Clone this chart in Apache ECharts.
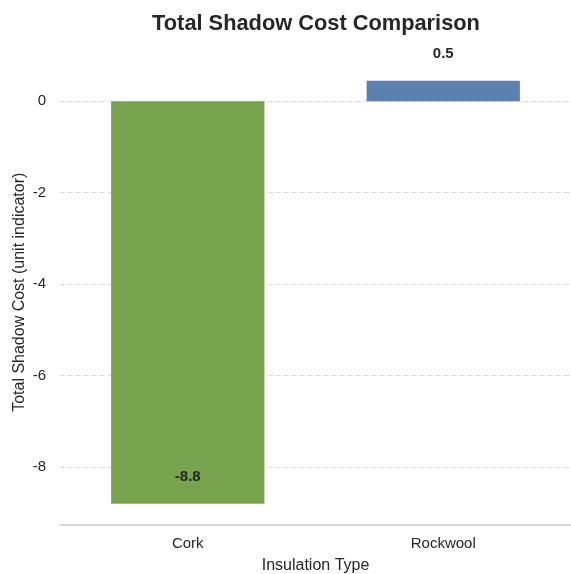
<!DOCTYPE html>
<html>
<head>
<meta charset="utf-8">
<script src="https://cdn.jsdelivr.net/npm/echarts@6/dist/echarts.min.js"></script>
<style>
  html, body { margin: 0; padding: 0; background: #fff; }
  #chart { width: 571px; height: 574px; }
</style>
</head>
<body>
<div id="chart"></div>
<script>
// Insulation materials and their total shadow cost
const categories = ['Cork', 'Rockwool'];
const shadowCost = [-8.8, 0.45];
const barColors = ['#78a44f', '#5b81b1'];
const valueLabels = ['-8.8', '0.5'];

const FONT = '"Liberation Sans", Arial, sans-serif';
const TEXT = '#262626';

const chart = echarts.init(document.getElementById('chart'), null, { renderer: 'canvas' });

const data = shadowCost.map((v, i) => ({
  value: v,
  itemStyle: { color: barColors[i] },
  label: {
    show: true,
    position: v >= 0 ? 'top' : 'insideBottom',
    distance: 19,
    formatter: valueLabels[i],
    fontFamily: FONT,
    fontSize: 15,
    fontWeight: 'bold',
    color: TEXT
  }
}));

chart.setOption({
  backgroundColor: '#ffffff',
  animation: false,
  title: {
    text: 'Total Shadow Cost Comparison',
    left: 311,
    textAlign: 'center',
    top: 8,
    textStyle: { fontFamily: FONT, fontSize: 21.8, fontWeight: 'bold', color: TEXT }
  },
  grid: { left: 60, right: 0, top: 59.5, bottom: 49, outerBoundsMode: 'none' },
  xAxis: {
    type: 'category',
    data: categories,
    name: 'Insulation Type',
    nameLocation: 'middle',
    nameGap: 33,
    nameMoveOverlap: false,
    nameTextStyle: { fontFamily: FONT, fontSize: 16, color: TEXT },
    axisLine: { onZero: false, lineStyle: { color: '#cccccc', width: 1.5 } },
    axisTick: { show: false },
    axisLabel: { fontFamily: FONT, fontSize: 15, color: TEXT, margin: 11 }
  },
  yAxis: {
    type: 'value',
    min: -9.2625,
    max: 0.9125,
    splitNumber: 5,
    name: 'Total Shadow Cost (unit indicator)',
    nameLocation: 'middle',
    nameGap: 32,
    nameMoveOverlap: false,
    nameTextStyle: { fontFamily: FONT, fontSize: 16, color: TEXT },
    axisLine: { show: false },
    axisTick: { show: false },
    axisLabel: { fontFamily: FONT, fontSize: 15, color: TEXT, margin: 14, showMinLabel: false, showMaxLabel: false },
    splitLine: { showMinLine: false, showMaxLine: false, lineStyle: { color: '#d9d9d9', type: [5, 3], width: 1 } }
  },
  series: [{
    type: 'bar',
    data: data,
    barCategoryGap: '40%'
  }]
});
</script>
</body>
</html>
